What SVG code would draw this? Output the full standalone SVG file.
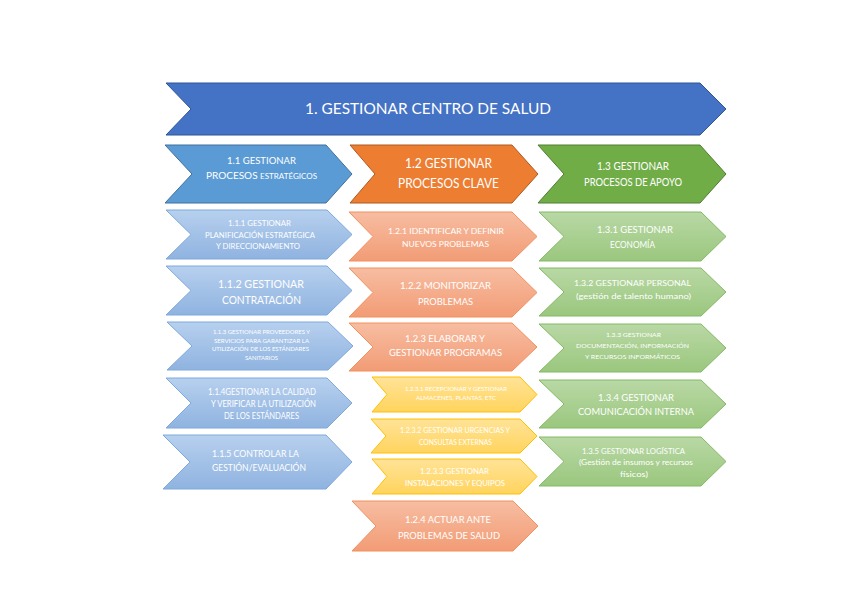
<svg xmlns="http://www.w3.org/2000/svg" width="848" height="599" viewBox="0 0 848 599">
<defs>
<linearGradient id="gB" x1="0" y1="0" x2="0" y2="1"><stop offset="0" stop-color="#B7D0EE"/><stop offset="1" stop-color="#8FB3E0"/></linearGradient>
<linearGradient id="gO" x1="0" y1="0" x2="0" y2="1"><stop offset="0" stop-color="#F7BDA2"/><stop offset="1" stop-color="#F29C75"/></linearGradient>
<linearGradient id="gY" x1="0" y1="0" x2="0" y2="1"><stop offset="0" stop-color="#FFE397"/><stop offset="1" stop-color="#FFD45E"/></linearGradient>
<linearGradient id="gG" x1="0" y1="0" x2="0" y2="1"><stop offset="0" stop-color="#B9D8A5"/><stop offset="1" stop-color="#9AC77E"/></linearGradient>
<style>
text{font-family:Lato,"Open Sans","Liberation Sans",sans-serif;fill:#FFFFFF;text-anchor:middle}
.main{fill:#4472C4;stroke:#2F5597;stroke-width:1}
.h1{fill:#5B9BD5;stroke:#41719C;stroke-width:1}
.h2{fill:#ED7D31;stroke:#AE5A21;stroke-width:1}
.h3{fill:#70AD47;stroke:#507E32;stroke-width:1}
.b{fill:url(#gB);stroke:#7FA9DC;stroke-width:1}
.o{fill:url(#gO);stroke:#F0915F;stroke-width:1}
.y{fill:url(#gY);stroke:#FFC000;stroke-width:1}
.g{fill:url(#gG);stroke:#84BA66;stroke-width:1}
</style>
</defs>
<rect width="848" height="599" fill="#FFFFFF"/>

<g id="n1">
<path class="main" d="M166 83 L700 83 L726 109 L700 135 L166 135 L191 109 Z"/>
<text x="428" y="114" font-size="16" textLength="246" lengthAdjust="spacingAndGlyphs">1. GESTIONAR CENTRO DE SALUD</text>
</g>

<g id="n1_1">
<path class="h1" d="M165 145 L326 145 L352 174 L326 203 L165 203 L192 174 Z"/>
<text x="261.5" y="164" font-size="10" textLength="69" lengthAdjust="spacingAndGlyphs">1.1 GESTIONAR</text>
<text x="261.5" y="179" font-size="10" textLength="111" lengthAdjust="spacingAndGlyphs">PROCESOS <tspan font-size="8">ESTRATÉGICOS</tspan></text>
</g>
<g id="n1_2">
<path class="h2" d="M350 145 L512 145 L538 174 L512 203 L350 203 L375 174 Z"/>
<text x="448.5" y="167.5" font-size="12.5" textLength="87" lengthAdjust="spacingAndGlyphs">1.2 GESTIONAR</text>
<text x="448.5" y="187.5" font-size="12.5" textLength="101" lengthAdjust="spacingAndGlyphs">PROCESOS CLAVE</text>
</g>
<g id="n1_3">
<path class="h3" d="M538 145 L700 145 L726 174 L700 203 L538 203 L564 174 Z"/>
<text x="633" y="170" font-size="11" textLength="72" lengthAdjust="spacingAndGlyphs">1.3 GESTIONAR</text>
<text x="633" y="186" font-size="11" textLength="98" lengthAdjust="spacingAndGlyphs">PROCESOS DE APOYO</text>
</g>

<g id="n1_1_1">
<path class="b" d="M166 210 L327 210 L352 234.5 L327 259 L166 259 L191 234.5 Z"/>
<text x="259.5" y="226" font-size="8" textLength="63" lengthAdjust="spacingAndGlyphs">1.1.1 GESTIONAR</text>
<text x="260" y="238" font-size="8" textLength="110" lengthAdjust="spacingAndGlyphs">PLANIFICACIÓN ESTRATÉGICA</text>
<text x="258" y="249" font-size="8" textLength="84" lengthAdjust="spacingAndGlyphs">Y DIRECCIONAMIENTO</text>
</g>
<g id="n1_1_2">
<path class="b" d="M166 266 L327 266 L352 290.5 L327 315 L166 315 L191 290.5 Z"/>
<text x="261" y="288" font-size="11.5" textLength="86" lengthAdjust="spacingAndGlyphs">1.1.2 GESTIONAR</text>
<text x="261.5" y="304" font-size="11.5" textLength="79" lengthAdjust="spacingAndGlyphs">CONTRATACIÓN</text>
</g>
<g id="n1_1_3">
<path class="b" d="M167 322 L328 322 L353 346 L328 370 L167 370 L192 346 Z"/>
<text x="261.5" y="334" font-size="6" textLength="97" lengthAdjust="spacingAndGlyphs">1.1.3 GESTIONAR PROVEEDORES Y</text>
<text x="261.5" y="342.5" font-size="6" textLength="95" lengthAdjust="spacingAndGlyphs">SERVICIOS PARA GARANTIZAR LA</text>
<text x="260.5" y="351" font-size="6" textLength="97" lengthAdjust="spacingAndGlyphs">UTILIZACIÓN DE LOS ESTÁNDARES</text>
<text x="261.5" y="360" font-size="6" textLength="33" lengthAdjust="spacingAndGlyphs">SANITARIOS</text>
</g>
<g id="n1_1_4">
<path class="b" d="M166 378 L327 378 L352 403 L327 428 L166 428 L191 403 Z"/>
<text x="262" y="395" font-size="8.5" textLength="108" lengthAdjust="spacingAndGlyphs">1.1.4GESTIONAR LA CALIDAD</text>
<text x="263.5" y="407" font-size="8.5" textLength="105" lengthAdjust="spacingAndGlyphs">Y VERIFICAR LA UTILIZACIÓN</text>
<text x="261.5" y="419" font-size="8.5" textLength="75" lengthAdjust="spacingAndGlyphs">DE LOS ESTÁNDARES</text>
</g>
<g id="n1_1_5">
<path class="b" d="M163 435 L326 435 L352 462 L326 489 L163 489 L190 462 Z"/>
<text x="255.5" y="457" font-size="9.5" textLength="87" lengthAdjust="spacingAndGlyphs">1.1.5 CONTROLAR LA</text>
<text x="259" y="471" font-size="9.5" textLength="94" lengthAdjust="spacingAndGlyphs">GESTIÓN/EVALUACIÓN</text>
</g>

<g id="n1_2_1">
<path class="o" d="M349 212 L512 212 L537 236.5 L512 261 L349 261 L373 236.5 Z"/>
<text x="446" y="234" font-size="8" textLength="116" lengthAdjust="spacingAndGlyphs">1.2.1 IDENTIFICAR Y DEFINIR</text>
<text x="445.5" y="247" font-size="8" textLength="87" lengthAdjust="spacingAndGlyphs">NUEVOS PROBLEMAS</text>
</g>
<g id="n1_2_2">
<path class="o" d="M349 268 L512 268 L537 292.5 L512 317 L349 317 L373 292.5 Z"/>
<text x="445.5" y="289" font-size="10" textLength="91" lengthAdjust="spacingAndGlyphs">1.2.2 MONITORIZAR</text>
<text x="445.5" y="304.5" font-size="10" textLength="55" lengthAdjust="spacingAndGlyphs">PROBLEMAS</text>
</g>
<g id="n1_2_3">
<path class="o" d="M349 323 L512 323 L537 347 L512 371 L349 371 L373 347 Z"/>
<text x="445" y="341.5" font-size="10" textLength="80" lengthAdjust="spacingAndGlyphs">1.2.3 ELABORAR Y</text>
<text x="445.5" y="355.5" font-size="10" textLength="113" lengthAdjust="spacingAndGlyphs">GESTIONAR PROGRAMAS</text>
</g>
<g id="n1_2_3_1">
<path class="y" d="M372 377 L520 377 L537 394.5 L520 412 L372 412 L387 394.5 Z"/>
<text x="456" y="391" font-size="6" textLength="102" lengthAdjust="spacingAndGlyphs">1.2.3.1 RECEPCIONAR Y GESTIONAR</text>
<text x="456" y="400" font-size="6" textLength="80" lengthAdjust="spacingAndGlyphs">ALMACENES, PLANTAS, ETC</text>
</g>
<g id="n1_2_3_2">
<path class="y" d="M371 419 L520 419 L537 436 L520 453 L371 453 L386 436 Z"/>
<text x="455" y="432.5" font-size="7" textLength="110" lengthAdjust="spacingAndGlyphs">1.2.3.2 GESTIONAR URGENCIAS Y</text>
<text x="455.5" y="444.5" font-size="7" textLength="73" lengthAdjust="spacingAndGlyphs">CONSULTAS EXTERNAS</text>
</g>
<g id="n1_2_3_3">
<path class="y" d="M372 459 L520 459 L537 476.5 L520 494 L372 494 L387 476.5 Z"/>
<text x="454.5" y="474" font-size="8" textLength="69" lengthAdjust="spacingAndGlyphs">1.2.3.3 GESTIONAR</text>
<text x="455" y="486" font-size="8" textLength="100" lengthAdjust="spacingAndGlyphs">INSTALACIONES Y EQUIPOS</text>
</g>
<g id="n1_2_4">
<path class="o" d="M352 501 L513 501 L538 526 L513 551 L352 551 L376 526 Z"/>
<text x="448" y="522.5" font-size="10" textLength="86" lengthAdjust="spacingAndGlyphs">1.2.4 ACTUAR ANTE</text>
<text x="449" y="538.5" font-size="10" textLength="102" lengthAdjust="spacingAndGlyphs">PROBLEMAS DE SALUD</text>
</g>

<g id="n1_3_1">
<path class="g" d="M539 212 L701 212 L726 236.5 L701 261 L539 261 L564 236.5 Z"/>
<text x="635" y="233" font-size="9" textLength="76" lengthAdjust="spacingAndGlyphs">1.3.1 GESTIONAR</text>
<text x="632.5" y="247.5" font-size="9" textLength="45" lengthAdjust="spacingAndGlyphs">ECONOMÍA</text>
</g>
<g id="n1_3_2">
<path class="g" d="M539 268 L701 268 L726 292 L701 316 L539 316 L564 292 Z"/>
<text x="632.5" y="286" font-size="8" textLength="117" lengthAdjust="spacingAndGlyphs">1.3.2 GESTIONAR PERSONAL</text>
<text x="633.5" y="299" font-size="8" textLength="115" lengthAdjust="spacingAndGlyphs">(gestión de talento humano)</text>
</g>
<g id="n1_3_3">
<path class="g" d="M539 324 L701 324 L726 348 L701 372 L539 372 L564 348 Z"/>
<text x="633.5" y="336.5" font-size="6.5" textLength="55" lengthAdjust="spacingAndGlyphs">1.3.3 GESTIONAR</text>
<text x="632.5" y="347.5" font-size="6.5" textLength="113" lengthAdjust="spacingAndGlyphs">DOCUMENTACIÓN, INFORMACIÓN</text>
<text x="632.5" y="358.5" font-size="6.5" textLength="95" lengthAdjust="spacingAndGlyphs">Y RECURSOS INFORMÁTICOS</text>
</g>
<g id="n1_3_4">
<path class="g" d="M539 380 L701 380 L726 404 L701 428 L539 428 L564 404 Z"/>
<text x="636" y="400.5" font-size="10" textLength="76" lengthAdjust="spacingAndGlyphs">1.3.4 GESTIONAR</text>
<text x="636" y="414.5" font-size="10" textLength="116" lengthAdjust="spacingAndGlyphs">COMUNICACIÓN INTERNA</text>
</g>
<g id="n1_3_5">
<path class="g" d="M539 437 L701 437 L726 461.5 L701 486 L539 486 L564 461.5 Z"/>
<text x="633.5" y="453.5" font-size="7" textLength="103" lengthAdjust="spacingAndGlyphs">1.3.5 GESTIONAR LOGÍSTICA</text>
<text x="636" y="464.5" font-size="7" textLength="114" lengthAdjust="spacingAndGlyphs">(Gestión de insumos y recursos</text>
<text x="634" y="476.5" font-size="7" textLength="28" lengthAdjust="spacingAndGlyphs">físicos)</text>
</g>

<g id="connectors"></g>
</svg>
